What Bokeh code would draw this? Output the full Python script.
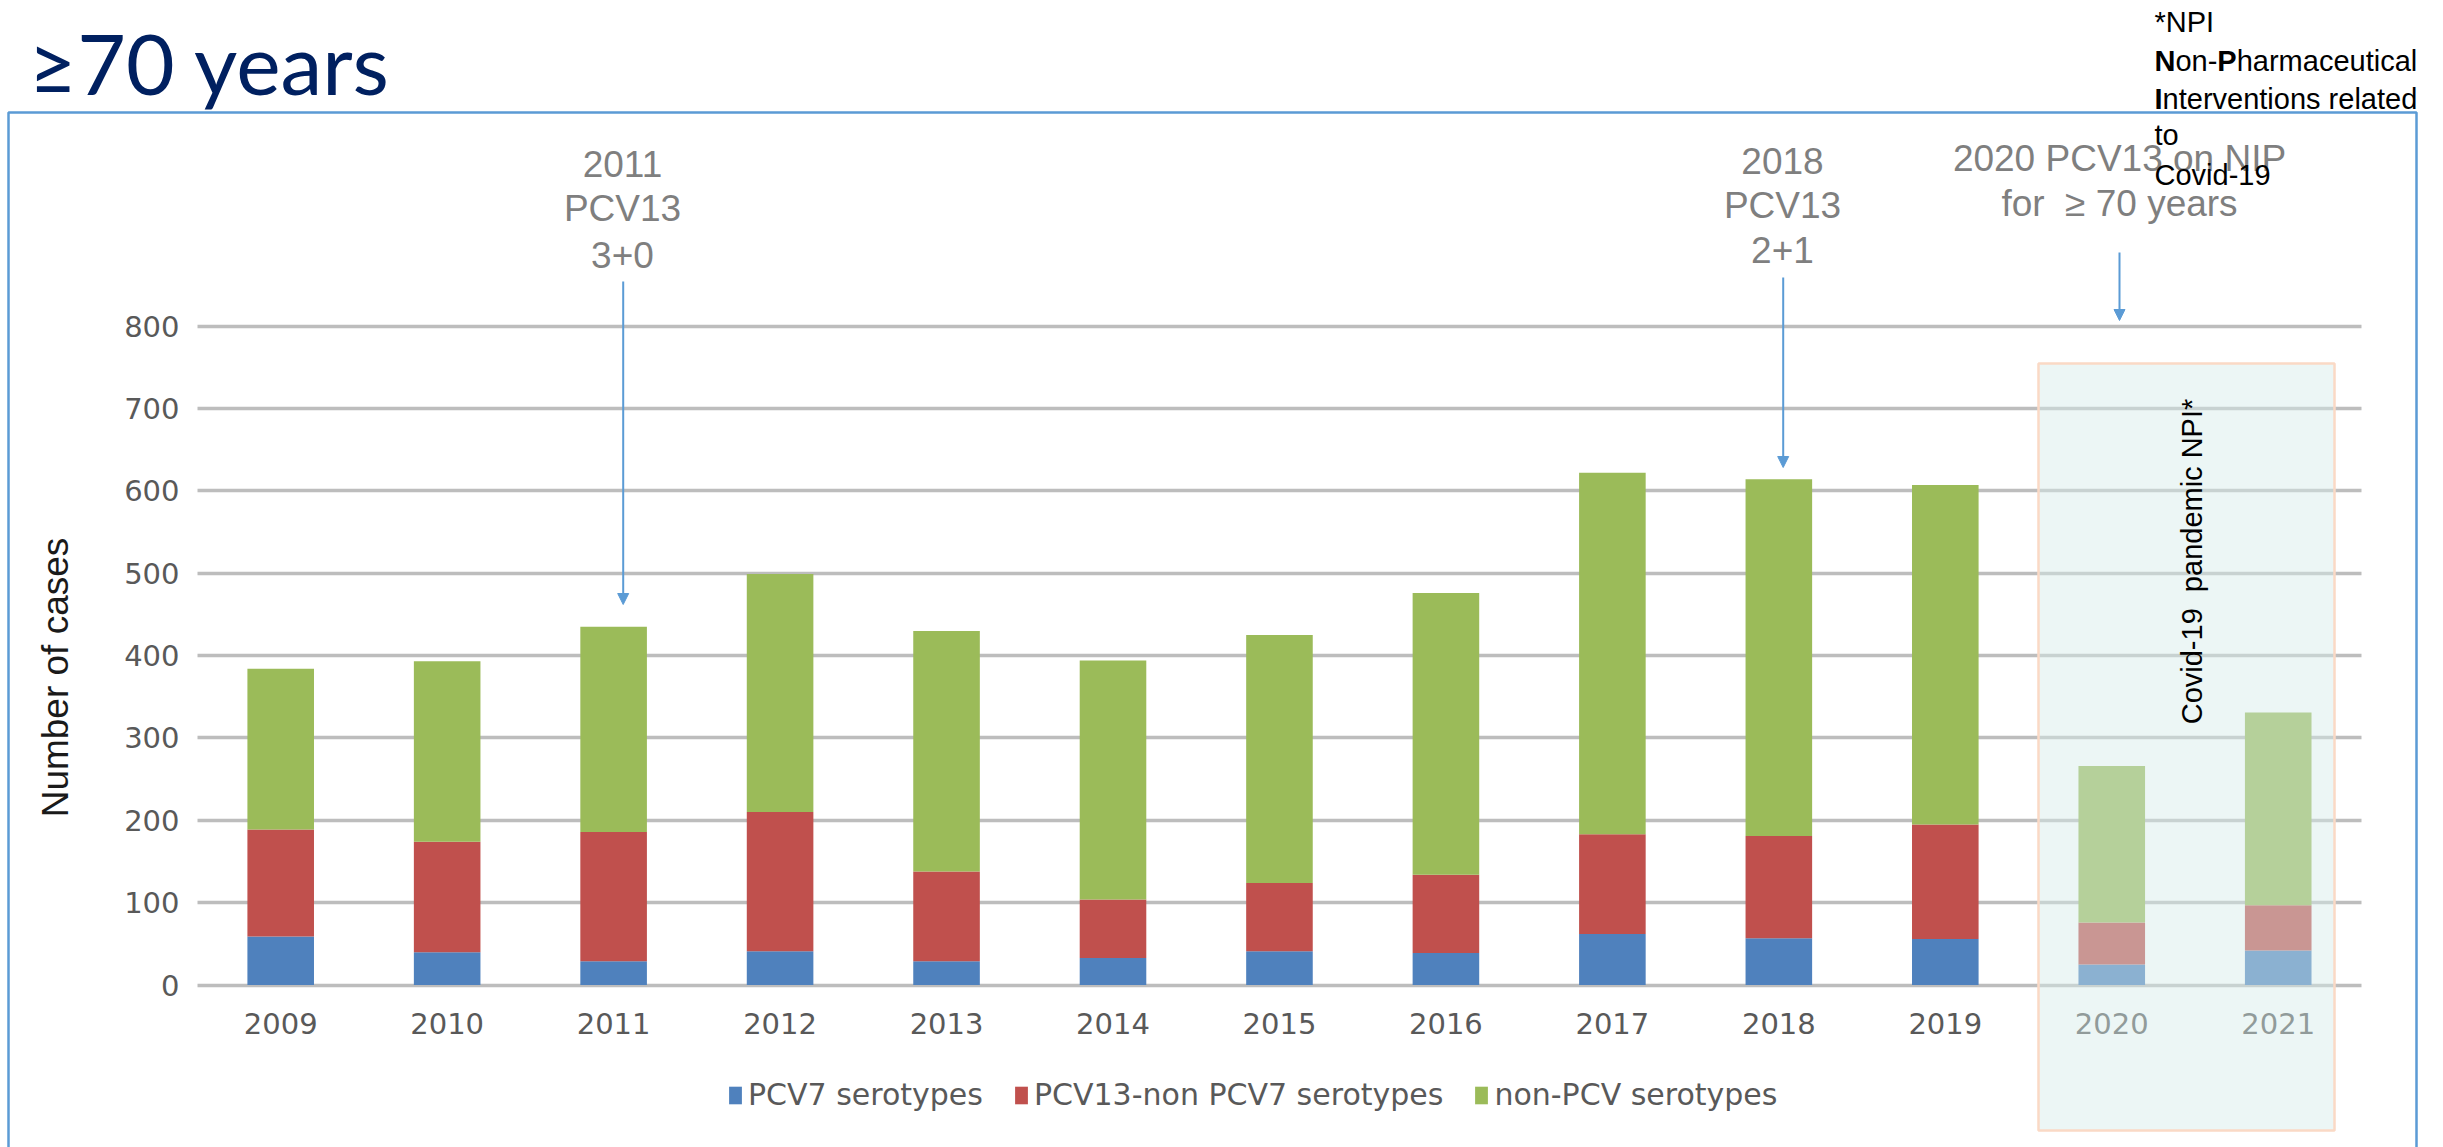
from math import pi
from bokeh.plotting import figure
from bokeh.models import (ColumnDataSource, Range1d, FixedTicker, BoxAnnotation,
                          Label, Arrow, NormalHead, Legend, LegendItem)
from bokeh.embed import file_html
from bokeh.resources import INLINE

# ---------------- data ----------------
years = ["2009", "2010", "2011", "2012", "2013", "2014", "2015",
         "2016", "2017", "2018", "2019", "2020", "2021"]
pcv7 = [59, 40, 29, 41, 29, 33, 41, 39, 62, 57, 56, 25, 42]
pcv13_non_pcv7 = [130, 134, 157, 169, 109, 71, 83, 95, 121, 124, 139, 51, 55]
non_pcv = [195, 219, 249, 289, 292, 290, 301, 342, 439, 433, 412, 190, 234]
series_names = ["PCV7 serotypes", "PCV13-non PCV7 serotypes", "non-PCV serotypes"]
series_colors = ["#4F81BD", "#C0504D", "#9BBB59"]
y_ticks = [0, 100, 200, 300, 400, 500, 600, 700, 800]

title_text = "\u226570 years"
y_label = "Number of cases"
ann_2011 = ["2011", "PCV13", "3+0"]
ann_2018 = ["2018", "PCV13", "2+1"]
ann_2020 = ["2020 PCV13 on NIP", "for \u00a0\u2265 70 years"]
covid_text = "Covid-19 \u00a0pandemic NPI*"

# ---------------- geometry (pixels of the page) ----------------
W, H = 2443, 1147
CAT_PX = 166.46        # width of one category slot
X0_PX = 280.2          # centre of first category
Y0_PX = 984.6          # row of value 0
PX_PER_UNIT = 659.0 / 800.0


def xd(px):
    return (px - X0_PX) / CAT_PX


def yd(py):
    return (Y0_PX - py) / PX_PER_UNIT


p = figure(width=W, height=H,
           x_range=Range1d(xd(0), xd(W)), y_range=Range1d(yd(H), yd(0)),
           output_backend="svg", toolbar_location=None, min_border=0,
           outline_line_color=None, background_fill_color="white",
           border_fill_color="white")

# axes inside the frame
p.xaxis.fixed_location = 0
p.yaxis.fixed_location = xd(197)

p.xaxis.ticker = FixedTicker(ticks=list(range(len(years))))
p.xaxis.major_label_overrides = {i: y for i, y in enumerate(years)}
p.xaxis.axis_line_color = None
p.xaxis.major_tick_line_color = None
p.xaxis.minor_tick_line_color = None
p.xaxis.major_label_text_font = "DejaVu Sans"
p.xaxis.major_label_text_font_size = "29px"
p.xaxis.major_label_text_color = "#595959"
p.xaxis.major_label_standoff = 22

p.yaxis.ticker = FixedTicker(ticks=y_ticks)
p.yaxis.axis_line_color = None
p.yaxis.major_tick_line_color = None
p.yaxis.minor_tick_line_color = None
p.yaxis.major_label_text_font = "DejaVu Sans"
p.yaxis.major_label_text_font_size = "29px"
p.yaxis.major_label_text_color = "#595959"
p.yaxis.major_label_standoff = 12

p.xgrid.visible = False
GRID_COLOR = "#BDBDBD"
GRID_W = 3.5
g = p.ygrid[0]
g.ticker = p.yaxis[0].ticker
g.grid_line_color = GRID_COLOR
g.grid_line_width = GRID_W
if "cross_bounds" in g.properties():
    g.cross_bounds = (-0.5, len(years) - 0.5)
else:
    g.visible = False
    p.segment(x0=-0.5, x1=len(years) - 0.5, y0=y_ticks, y1=y_ticks,
              line_color=GRID_COLOR, line_width=GRID_W)

# ---------------- bars ----------------
src = ColumnDataSource(dict(x=list(range(len(years))), pcv7=pcv7,
                            pcv13=pcv13_non_pcv7, nonpcv=non_pcv))
rends = p.vbar_stack(["pcv7", "pcv13", "nonpcv"], x="x", width=0.4,
                     fill_color=series_colors, line_color=None, source=src)

legend = Legend(items=[LegendItem(label=n, renderers=[r]) for n, r in zip(series_names, rends)],
                orientation="horizontal", location=(727, 35),
                glyph_width=16, glyph_height=22, label_height=30,
                label_text_font="DejaVu Sans", label_text_font_size="30px",
                label_text_color="#595959", label_standoff=5, spacing=30,
                padding=0, margin=0, border_line_color=None,
                background_fill_alpha=0)
p.add_layout(legend)

# ---------------- covid overlay ----------------
p.add_layout(BoxAnnotation(left=xd(2038), right=xd(2334), top=yd(363), bottom=yd(1130),
                           fill_color="#D5ECE8", fill_alpha=0.45,
                           line_color="#FAD9C5", line_alpha=1, line_width=2.5))

# outer blue frame
p.add_layout(BoxAnnotation(left=xd(8), right=xd(2416), top=yd(112), bottom=yd(1400),
                           fill_alpha=0, line_color="#5B9BD5", line_alpha=1, line_width=2.5))

p.add_layout(Label(x=xd(2191), y=yd(561), text=covid_text, angle=pi / 2,
                   text_align="center", text_baseline="middle",
                   text_font="Liberation Sans", text_font_size="29px", text_color="black"))

# ---------------- annotations ----------------
GRAY = "#7F7F7F"
BLUE = "#5B9BD5"


def add_lines(lines, cx, cys):
    for t, cy in zip(lines, cys):
        p.add_layout(Label(x=xd(cx), y=yd(cy), text=t, text_align="center",
                           text_baseline="middle", text_font="Liberation Sans",
                           text_font_size="37px", text_color=GRAY))


add_lines(ann_2011, 622, [163, 208, 254])
add_lines(ann_2018, 1782, [160, 205, 249])
add_lines(ann_2020, 2119, [158, 203])


def add_arrow(px, py0, py1):
    p.add_layout(Arrow(end=NormalHead(size=11, fill_color=BLUE, line_color=BLUE, line_width=1),
                       x_start=xd(px), y_start=yd(py0), x_end=xd(px), y_end=yd(py1),
                       line_color=BLUE, line_width=2))


add_arrow(622.7, 281, 604)
add_arrow(1782.7, 277, 467)
add_arrow(2119, 252, 320)

# title (kept fully inside the page)
p.add_layout(Label(x=xd(28), y=yd(62), text=title_text, text_align="left",
                   text_baseline="middle", text_font="Lato",
                   text_font_size="84px", text_color="#002060"))

# y axis title
p.add_layout(Label(x=xd(55), y=yd(677), text=y_label, angle=pi / 2,
                   text_align="center", text_baseline="middle",
                   text_font="Liberation Sans", text_font_size="37px", text_color="#1a1a1a"))

# NPI note (bold initials)
NX = 2154
FS = 29


def note(text, cy, off=0.0, bold=False):
    p.add_layout(Label(x=xd(NX), y=yd(cy), x_offset=off, text=text, text_align="left",
                       text_baseline="middle", text_font="Liberation Sans",
                       text_font_size=f"{FS}px", text_color="black",
                       text_font_style="bold" if bold else "normal"))


note("*NPI", 21)
note("N", 60, 0, True)
note("on-", 60, 0.722 * FS)
note("P", 60, 2.167 * FS, True)
note("harmaceutical", 60, 2.834 * FS)
note("I", 98, 0, True)
note("nterventions related", 98, 0.278 * FS)
note("to", 134)
note("Covid-19", 174)

open("out.html", "w").write(file_html(p, INLINE))
